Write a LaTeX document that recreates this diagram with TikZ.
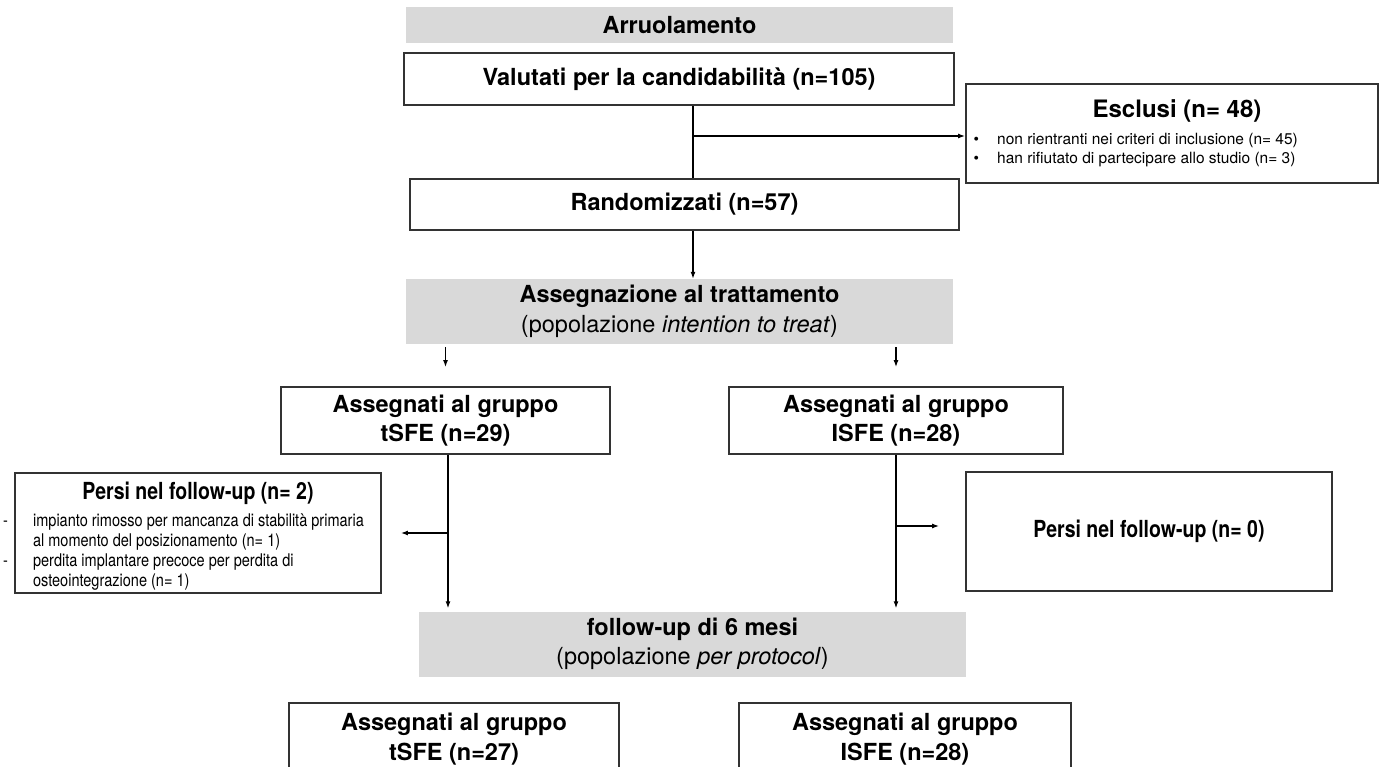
\documentclass[tikz,border=0pt]{standalone}
\usepackage{fontspec}
\setmainfont{TeX Gyre Heros}
\newfontfamily\condfont[FakeStretch=0.83]{TeX Gyre Heros}
\usetikzlibrary{arrows.meta}
\definecolor{boxgrey}{HTML}{D9D9D9}
\definecolor{edgegrey}{HTML}{333333}
\newcommand\bigfs{\fontsize{23.5}{29.5}\selectfont}
\begin{document}
\begin{tikzpicture}[x=1pt,y=-1pt,
  whitebox/.style={draw=edgegrey, line width=1.8pt, fill=white, inner sep=0pt, align=center, font=\bigfs\bfseries},
  greybox/.style={fill=boxgrey, draw=none, inner sep=0pt, align=center, font=\bigfs},
  conn/.style={line width=1.3pt, black},
  arrowconn/.style={conn, -{Latex[length=7pt,width=5pt]}}]
\useasboundingbox (0,0) rectangle (1381,767);
\clip (0,0) rectangle (1381,767);
\fill[white] (0,0) rectangle (1381,767);
\coordinate (spine) at (693,0);

% top chain
\node[greybox, minimum width=547pt, minimum height=36pt, font=\bigfs\bfseries] (arr) at (679.5,25) {Arruolamento};
\node[whitebox, minimum width=550pt, minimum height=52pt] (val) at (679,79) {Valutati per la candidabilità (n=105)};
\node[whitebox, minimum width=412pt, minimum height=99pt] (excl) at (1172,133.5) {};
\node[font=\bfseries\fontsize{24}{28}\selectfont, inner sep=0pt] (exclT) at (1177,111) {Esclusi (n= 48)};
\node[anchor=west, inner sep=0pt, font=\fontsize{15.5}{19.5}\selectfont] (exclL) at (973.5,150)
  {\begin{tabular}{@{}l@{\hspace{18pt}}l@{}}•&non rientranti nei criteri di inclusione (n= 45)\\ •&han rifiutato di partecipare allo studio (n= 3)\end{tabular}};
\node[whitebox, minimum width=549pt, minimum height=51pt] (rnd) at (684.5,204.5) {Randomizzati (n=57)};
\node[greybox, minimum width=547pt, minimum height=65pt] (asg) at (679.5,311.5) {\textbf{Assegnazione al trattamento}\\(popolazione \textit{intention to treat})};

% groups
\node[whitebox, minimum width=329pt, minimum height=67pt] (tsfe) at (445.5,420.5) {Assegnati al gruppo\\tSFE (n=29)};
\node[whitebox, minimum width=334pt, minimum height=67pt] (isfe) at (896,420.5) {Assegnati al gruppo\\ISFE (n=28)};

% losses
\node[whitebox, minimum width=366pt, minimum height=120pt] (lostL) at (198,533) {};
\node[inner sep=0pt, font=\condfont\bfseries\fontsize{23.5}{28}\selectfont] (lostLT) at (198,493) {Persi nel follow-up (n= 2)};
\node[anchor=west, inner sep=0pt, font=\condfont\fontsize{17.5}{20}\selectfont] (lostLB) at (3,552)
  {\begin{tabular}{@{}l@{\hspace{25pt}}l@{}}-&impianto rimosso per mancanza di stabilità primaria\\ &al momento del posizionamento (n= 1)\\ -&perdita implantare precoce per perdita di\\ &osteointegrazione (n= 1)\end{tabular}};
\node[whitebox, minimum width=366pt, minimum height=119pt, font=\condfont\bfseries\fontsize{23.5}{28}\selectfont] (lostR) at (1149,531.5) {Persi nel follow-up (n= 0)};

% follow-up
\node[greybox, minimum width=547pt, minimum height=65pt] (fu) at (692.5,644) {\textbf{follow-up di 6 mesi}\\(popolazione \textit{per protocol})};

% bottom boxes (cut by the lower edge)
\node[whitebox, minimum width=330pt, minimum height=110pt, anchor=north] (botL) at (454,702) {};
\node[whitebox, minimum width=332pt, minimum height=110pt, anchor=north] (botR) at (905,702) {};
\node[inner sep=0pt, align=center, font=\bigfs\bfseries] (botLT) at (454,739) {Assegnati al gruppo\\tSFE (n=27)};
\node[inner sep=0pt, align=center, font=\bigfs\bfseries] (botRT) at (905,739) {Assegnati al gruppo\\ISFE (n=28)};

% connectors
\draw[conn] (val.south -| spine) -- (rnd.north -| spine);
\draw[arrowconn] ([yshift=-2.5pt]excl.west -| spine) -- ([yshift=-2.5pt]excl.west);
\draw[arrowconn] (rnd.south -| spine) -- (asg.north -| spine);
\draw[arrowconn] ([yshift=-3pt]asg.south -| tsfe.north) -- ([yshift=19pt]tsfe.north);
\draw[arrowconn] ([yshift=-3pt]asg.south -| isfe.north) -- ([yshift=19pt]isfe.north);
\draw[arrowconn] ([xshift=2.5pt]tsfe.south) -- ([xshift=2.5pt,yshift=3pt]tsfe.south |- fu.north);
\draw[arrowconn] ([xshift=2.5pt]tsfe.south |- lostL.east) -- ([xshift=19pt]lostL.east);
\draw[arrowconn] (isfe.south) -- ([yshift=3pt]isfe.south |- fu.north);
\draw[arrowconn] ([yshift=5.5pt]lostR.west -| isfe.south) -- ([xshift=-26pt,yshift=5.5pt]lostR.west);
\end{tikzpicture}
\end{document}
